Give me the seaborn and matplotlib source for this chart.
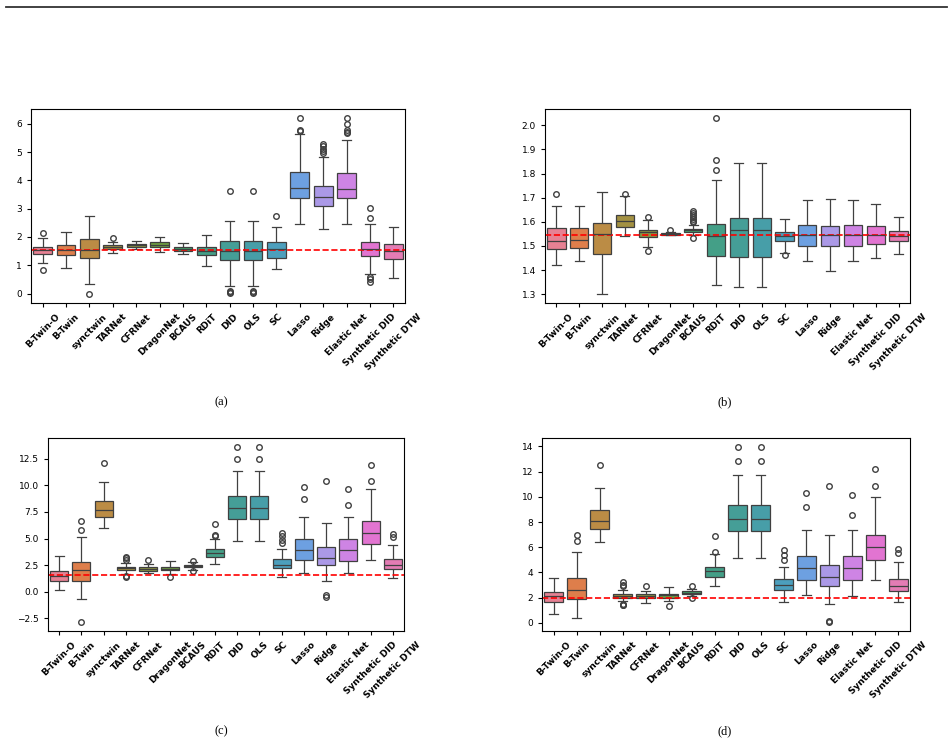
import numpy as np
import pandas as pd
import matplotlib
matplotlib.use("Agg")
import matplotlib.pyplot as plt
import seaborn as sns
from matplotlib.lines import Line2D

# ==========================================
# 方法名称 (x 轴类别)
# ==========================================
METHODS = ["B-Twin-O", "B-Twin", "synctwin", "TARNet", "CFRNet", "DragonNet", "BCAUS",
           "RDiT", "DID", "OLS", "SC", "Lasso", "Ridge", "Elastic Net",
           "Synthetic DID", "Synthetic DTW"]

# ==========================================
# 各子图的箱线统计量：Q1 / 中位数 / Q3 / 下须 / 上须 / 离群点
# ==========================================
# (a)
A_Q1 = [1.41, 1.36, 1.27, 1.58, 1.66, 1.63, 1.50, 1.36, 1.18, 1.18, 1.27, 3.38, 3.11, 3.38, 1.34, 1.23]
A_MED = [1.53, 1.55, 1.54, 1.66, 1.70, 1.72, 1.57, 1.51, 1.51, 1.51, 1.57, 3.73, 3.43, 3.70, 1.56, 1.51]
A_Q3 = [1.64, 1.70, 1.93, 1.71, 1.75, 1.81, 1.66, 1.66, 1.87, 1.87, 1.81, 4.31, 3.81, 4.26, 1.81, 1.74]
A_LO = [1.09, 0.90, 0.33, 1.45, 1.57, 1.48, 1.40, 0.98, 0.26, 0.26, 0.86, 2.45, 2.28, 2.46, 0.71, 0.54]
A_HI = [1.95, 2.19, 2.75, 1.83, 1.86, 2.01, 1.79, 2.08, 2.56, 2.56, 2.36, 5.65, 4.83, 5.41, 2.45, 2.36]
A_OUT = [[2.15, 0.85], [], [-0.02], [1.95], [], [], [], [],
         [3.61, 0.10, 0.06, 0.03], [3.61, 0.10, 0.06, 0.03], [2.75],
         [5.75, 5.78, 6.21], [4.95, 5.05, 5.12, 5.20, 5.28],
         [5.66, 5.72, 5.78, 6.00, 6.21], [2.66, 3.02, 0.59, 0.50, 0.42], []]
A_TRUE = 1.55

# (b)
B_Q1 = [1.489, 1.492, 1.467, 1.577, 1.537, 1.547, 1.558, 1.458, 1.454, 1.454, 1.522, 1.501, 1.501, 1.501, 1.507, 1.522]
B_MED = [1.522, 1.526, 1.551, 1.603, 1.557, 1.551, 1.565, 1.540, 1.568, 1.568, 1.543, 1.546, 1.546, 1.547, 1.547, 1.543]
B_Q3 = [1.575, 1.575, 1.596, 1.630, 1.568, 1.554, 1.572, 1.590, 1.617, 1.617, 1.558, 1.588, 1.583, 1.588, 1.581, 1.562]
B_LO = [1.419, 1.439, 1.300, 1.540, 1.497, 1.545, 1.546, 1.339, 1.329, 1.329, 1.472, 1.436, 1.396, 1.439, 1.450, 1.465]
B_HI = [1.665, 1.667, 1.722, 1.705, 1.607, 1.558, 1.585, 1.774, 1.843, 1.843, 1.610, 1.689, 1.694, 1.689, 1.674, 1.620]
B_OUT = [[1.715], [], [], [1.716], [1.620, 1.481], [1.566],
         [1.598, 1.605, 1.612, 1.620, 1.628, 1.637, 1.645, 1.533],
         [1.813, 1.856, 2.031], [], [], [1.461], [], [], [], [], []]
B_TRUE = 1.544

# (c)
C_Q1 = [0.98, 1.00, 7.05, 2.01, 1.91, 2.00, 2.28, 3.23, 6.87, 6.87, 2.23, 2.98, 2.48, 2.92, 4.48, 2.16]
C_MED = [1.47, 2.01, 7.68, 2.19, 2.10, 2.16, 2.41, 3.64, 7.87, 7.87, 2.48, 3.92, 3.17, 3.92, 5.52, 2.54]
C_Q3 = [1.95, 2.79, 8.56, 2.35, 2.32, 2.35, 2.50, 4.01, 8.97, 8.97, 3.10, 4.92, 4.17, 4.92, 6.61, 3.07]
C_LO = [0.19, -0.72, 5.99, 1.70, 1.72, 1.66, 2.05, 2.57, 4.80, 4.80, 1.35, 1.72, 1.03, 1.72, 3.01, 1.29]
C_HI = [3.35, 5.11, 10.31, 2.66, 2.60, 2.85, 2.75, 4.92, 11.38, 11.38, 4.04, 6.99, 6.43, 6.99, 9.69, 4.36]
C_OUT = [[], [5.77, 6.68, -2.88], [12.13], [2.98, 3.13, 3.29, 1.41, 1.45], [2.98], [1.41],
         [2.92, 1.90], [5.24, 5.33, 6.36], [12.48, 13.64], [12.48, 13.64],
         [4.55, 4.86, 5.24, 5.55], [8.75, 9.87], [10.44, -0.28, -0.47],
         [8.12, 9.69], [10.44, 11.88], [5.17, 5.42]]
C_TRUE = 1.54

# (d)
D_Q1 = [1.69, 1.93, 7.45, 2.01, 1.95, 1.95, 2.30, 3.62, 7.29, 7.29, 2.61, 3.41, 2.91, 3.41, 4.97, 2.54]
D_MED = [2.11, 2.61, 8.11, 2.17, 2.14, 2.19, 2.40, 4.12, 8.27, 8.27, 2.98, 4.36, 3.67, 4.36, 6.00, 2.93]
D_Q3 = [2.48, 3.54, 8.93, 2.30, 2.30, 2.32, 2.51, 4.40, 9.35, 9.35, 3.46, 5.31, 4.57, 5.28, 7.00, 3.46]
D_LO = [0.71, 0.40, 6.39, 1.70, 1.58, 1.77, 2.10, 2.96, 5.18, 5.18, 1.69, 2.22, 1.51, 2.14, 3.41, 1.64]
D_HI = [3.54, 5.63, 10.70, 2.61, 2.56, 2.82, 2.70, 5.45, 11.75, 11.75, 4.46, 7.37, 6.95, 7.40, 10.00, 4.81]
D_OUT = [[], [6.47, 6.95], [12.49], [2.90, 3.00, 3.22, 1.50, 1.45, 1.40], [2.91], [1.35],
         [2.91, 1.95], [5.62, 6.89], [12.86, 13.97], [12.86, 13.97],
         [4.99, 5.41, 5.78], [9.17, 10.30], [10.83, 0.13, 0.05],
         [8.56, 10.14], [10.83, 12.20], [5.57, 5.86]]
D_TRUE = 2.0


def stats_to_sample(q1, med, q3, lo, hi, out, k=20):
    # 用读取的统计量拼出一组样本，使分位数/须/离群点与原图一致
    low = sorted([v for v in out if v < q1] + [lo])
    high = sorted([v for v in out if v > q3] + [hi])
    return low + [q1] * (k + 1 - len(low)) + [med] * (2 * k - 1) + [q3] * (k + 1 - len(high)) + high


def build_df(q1s, meds, q3s, los, his, outs):
    rows = []
    for m, q1, med, q3, lo, hi, out in zip(METHODS, q1s, meds, q3s, los, his, outs):
        for v in stats_to_sample(q1, med, q3, lo, hi, out):
            rows.append((m, v))
    return pd.DataFrame(rows, columns=["method", "value"])


panels = [
    ("(a)", build_df(A_Q1, A_MED, A_Q3, A_LO, A_HI, A_OUT), A_TRUE, [31, 109, 405, 303], 221, 402),
    ("(b)", build_df(B_Q1, B_MED, B_Q3, B_LO, B_HI, B_OUT), B_TRUE, [545, 109, 910, 303], 725, 402),
    ("(c)", build_df(C_Q1, C_MED, C_Q3, C_LO, C_HI, C_OUT), C_TRUE, [48, 438, 404, 631], 221, 731),
    ("(d)", build_df(D_Q1, D_MED, D_Q3, D_LO, D_HI, D_OUT), D_TRUE, [542, 438, 910, 631], 725, 731),
]

W, H = 948, 743
fig = plt.figure(figsize=(W / 100, H / 100), dpi=100)

for label, df, true_val, (x0, y0, x1, y1), cx, cy in panels:
    ax = fig.add_axes([x0 / W, 1 - y1 / H, (x1 - x0) / W, (y1 - y0) / H])
    sns.boxplot(data=df, x="method", y="value", hue="method", order=METHODS,
                hue_order=METHODS, palette="husl", legend=False, width=0.8,
                linewidth=0.9, fliersize=4, ax=ax)
    ax.axhline(true_val, color="red", linestyle="--", linewidth=1.2)
    ax.set_xlabel("")
    ax.set_ylabel("")
    ax.set_xticks(range(len(METHODS)))
    ax.set_xticklabels(METHODS, rotation=45, fontsize=6.5, fontweight="bold")
    ax.tick_params(axis="y", labelsize=6.5, length=3)
    ax.tick_params(axis="x", length=3)
    for sp in ax.spines.values():
        sp.set_linewidth(0.8)
    fig.text(cx / W, 1 - cy / H, label, ha="center", va="center",
             family="Liberation Serif", fontsize=9)

# 顶部页眉横线
fig.add_artist(Line2D([6 / W, 947 / W], [1 - 7 / H, 1 - 7 / H], color="#333333", linewidth=1.3))

fig.savefig("out.png", dpi=100)
